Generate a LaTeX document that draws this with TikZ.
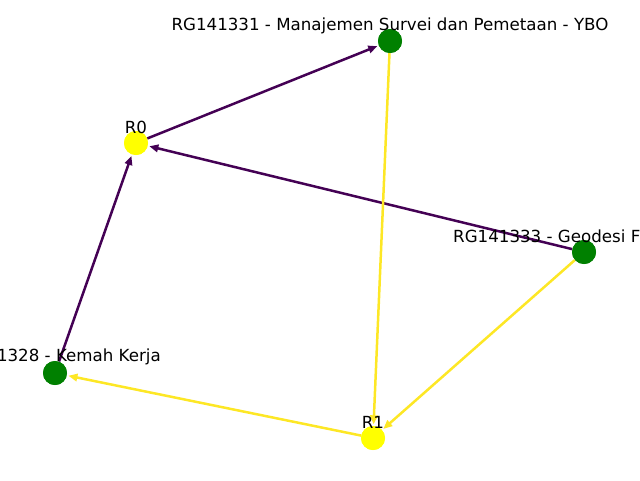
\documentclass[tikz,border=0pt]{standalone}
\usepackage{fontspec}
\setmainfont{DejaVu Sans}
\usetikzlibrary{arrows.meta}
\definecolor{vpurple}{HTML}{440154}
\definecolor{vyellow}{HTML}{FDE725}
\definecolor{ngreen}{HTML}{008000}
\definecolor{nyellow}{HTML}{FFFF00}
\tikzset{
  gnode/.style={circle,fill=ngreen,minimum size=24pt,inner sep=0pt},
  ynode/.style={circle,fill=nyellow,minimum size=24pt,inner sep=0pt},
  lbl/.style={inner sep=0pt,font=\fontsize{16.67}{20}\selectfont,anchor=center},
  pedge/.style={draw=vpurple,line width=2.5pt,shorten >=1.5pt,-{Triangle[length=9pt,width=7.5pt]}},
  yedge/.style={draw=vyellow,line width=2.5pt,shorten >=1.5pt,-{Triangle[length=9pt,width=7.5pt]}}
}
\begin{document}
\begin{tikzpicture}[x=1pt,y=-1pt]
\useasboundingbox (0,0) rectangle (640,480);
\clip (0,0) rectangle (640,480);
% node positions (circles)
\node[gnode] (a) at (390,41) {};
\node[ynode] (r0) at (136,143) {};
\node[gnode] (c) at (584,252) {};
\node[gnode] (b) at (55,373) {};
\node[ynode] (r1) at (373,438) {};
% edges
\draw[pedge] (r0) -- (a);
\draw[pedge] (c) -- (r0);
\draw[pedge] (b) -- (r0);
\draw[yedge] (a) -- (r1);
\draw[yedge] (c) -- (r1);
\draw[yedge] (r1) -- (b);
% circles on top of edges
\fill[ngreen] (a) circle (12);
\fill[nyellow] (r0) circle (12);
\fill[ngreen] (c) circle (12);
\fill[ngreen] (b) circle (12);
\fill[nyellow] (r1) circle (12);
% labels on top
\node[lbl] (la) at (390,26) {RG141331 - Manajemen Survei dan Pemetaan - YBO};
\node[lbl] (lr0) at (136,127) {R0};
\node[lbl,anchor=west] (lc) at (453,236) {RG141333 - Geodesi Fisik};
\node[lbl,anchor=east] (lb) at (161,357) {RG141328 - Kemah Kerja};
\node[lbl] (lr1) at (373,422) {R1};
\end{tikzpicture}
\end{document}
